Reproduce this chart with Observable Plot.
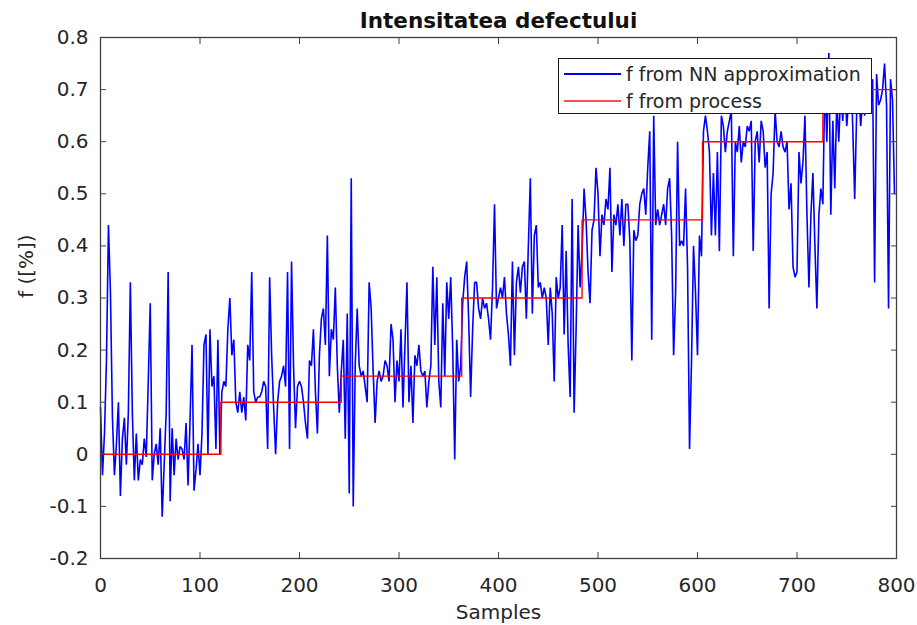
<!DOCTYPE html>
<html>
<head>
<meta charset="utf-8">
<script src="https://cdn.jsdelivr.net/npm/d3@7"></script>
<script src="https://cdn.jsdelivr.net/npm/@observablehq/plot@0.6"></script>
<style>
  html, body { margin: 0; padding: 0; background: #fff; }
  #wrap { position: relative; width: 917px; height: 625px; overflow: hidden; }
  #legend { position: absolute; left: 558px; top: 58px; width: 314px; height: 56px; box-sizing: border-box;
            border: 1px solid #1a1a1a; background: #fff; font-family: "DejaVu Sans", sans-serif; font-size: 19px; color: #262626; }
  .lg-row { position: absolute; left: 0; height: 20px; display: flex; align-items: center; }
  .lg-line { width: 57px; margin-left: 5px; margin-right: 5px; }
</style>
</head>
<body>
<div id="wrap"></div>
<script>
// ---- Data ----
const chartTitle = "Intensitatea defectului";
const xLabel = "Samples";
const yLabel = "f ([%])";
const seriesNames = ["f from NN approximation", "f from process"];
const seriesColors = ["#0000ff", "#ff0000"];

const xTicks = [0, 100, 200, 300, 400, 500, 600, 700, 800];
const yTicks = [-0.2, -0.1, 0, 0.1, 0.2, 0.3, 0.4, 0.5, 0.6, 0.7, 0.8];
const yTickLabels = ["-0.2", "-0.1", "0", "0.1", "0.2", "0.3", "0.4", "0.5", "0.6", "0.7", "0.8"];

// NN approximation, one value every 2 samples
const sampleStep = 2;
const nnValues = [
  0.09, -0.04, 0.04, 0.18, 0.44, 0.31, 0.07, -0.04, 0.02, 0.1,
  -0.08, 0.03, 0.07, -0.02, 0.08, 0.33, 0.08, -0.05, 0.04, -0.05,
  -0.01, -0.02, 0.03, -0.005, 0.14, 0.29, -0.05, 0.0, 0.02, -0.02,
  0.05, -0.12, -0.02, 0.08, 0.35, -0.09, 0.05, -0.04, 0.03, -0.01,
  0.015, 0.01, -0.01, 0.06, -0.06, 0.065, 0.21, -0.07, -0.03, 0.02,
  -0.04, 0.04, 0.21, 0.23, 0.0, 0.24, 0.13, 0.15, 0.01, 0.22,
  0.0, 0.12, 0.14, 0.13, 0.24, 0.3, 0.19, 0.22, 0.1, 0.08,
  0.12, 0.08, 0.11, 0.065, 0.21, 0.18, 0.35, 0.12, 0.1, 0.11,
  0.11, 0.12, 0.14, 0.13, 0.01, 0.34, 0.19, 0.09, 0.0, 0.1,
  0.14, 0.15, 0.17, 0.13, 0.35, 0.01, 0.37, 0.17, 0.05, 0.13,
  0.14, 0.13, 0.1, 0.06, 0.03, 0.18, 0.17, 0.24, 0.12, 0.04,
  0.19, 0.26, 0.28, 0.21, 0.42, 0.15, 0.24, 0.22, 0.32, 0.17,
  0.08, 0.16, 0.22, 0.03, 0.27, -0.075, 0.53, -0.1, 0.17, 0.28,
  0.17, 0.15, 0.16, 0.13, 0.1, 0.33, 0.28, 0.16, 0.06, 0.14,
  0.16, 0.14, 0.15, 0.18, 0.17, 0.14, 0.25, 0.22, 0.1, 0.18,
  0.14, 0.24, 0.09, 0.21, 0.33, 0.1, 0.17, 0.06, 0.19, 0.17,
  0.21, 0.16, 0.15, 0.16, 0.09, 0.14, 0.17, 0.36, 0.21, 0.34,
  0.14, 0.09, 0.29, 0.15, 0.33, 0.26, 0.34, 0.2, -0.01, 0.22,
  0.14, 0.17, 0.29, 0.34, 0.37, 0.26, 0.11, 0.24, 0.33, 0.33,
  0.28, 0.26, 0.3, 0.28, 0.29, 0.26, 0.22, 0.32, 0.48, 0.28,
  0.3, 0.32, 0.3, 0.34, 0.27, 0.23, 0.17, 0.37, 0.19, 0.33,
  0.36, 0.31, 0.36, 0.37, 0.26, 0.4, 0.53, 0.27, 0.42, 0.44,
  0.32, 0.33, 0.3, 0.32, 0.3, 0.21, 0.32, 0.27, 0.14, 0.34,
  0.3, 0.32, 0.44, 0.23, 0.39, 0.21, 0.11, 0.49, 0.08, 0.24,
  0.44, 0.32, 0.39, 0.51, 0.45, 0.35, 0.29, 0.43, 0.45, 0.55,
  0.5, 0.38, 0.46, 0.44, 0.49, 0.47, 0.55, 0.35, 0.46, 0.44,
  0.48, 0.42, 0.49, 0.4, 0.48, 0.48, 0.41, 0.18, 0.43, 0.41,
  0.42, 0.48, 0.5, 0.51, 0.46, 0.55, 0.62, 0.22, 0.65, 0.44,
  0.47, 0.44, 0.46, 0.48, 0.44, 0.51, 0.53, 0.42, 0.19, 0.31,
  0.6, 0.4, 0.41, 0.4, 0.51, 0.36, 0.01, 0.18, 0.4, 0.31,
  0.19, 0.42, 0.38, 0.62, 0.65, 0.62, 0.58, 0.42, 0.54, 0.42,
  0.58, 0.39, 0.65, 0.63, 0.58, 0.62, 0.64, 0.66, 0.38, 0.6,
  0.58, 0.63, 0.56, 0.6, 0.59, 0.63, 0.62, 0.64, 0.39, 0.6,
  0.62, 0.56, 0.64, 0.62, 0.55, 0.58, 0.28, 0.5, 0.54, 0.66,
  0.6, 0.59, 0.62, 0.59, 0.58, 0.6, 0.47, 0.52, 0.36, 0.34,
  0.35, 0.58, 0.52, 0.56, 0.65, 0.46, 0.32, 0.46, 0.54, 0.4,
  0.28, 0.46, 0.51, 0.48, 0.72, 0.6, 0.77, 0.46, 0.64, 0.51,
  0.68, 0.6, 0.7, 0.64, 0.72, 0.63, 0.68, 0.76, 0.63, 0.49,
  0.66, 0.7, 0.63, 0.68, 0.65, 0.7, 0.66, 0.67, 0.72, 0.33,
  0.73, 0.67, 0.68, 0.7, 0.75, 0.67, 0.28, 0.72, 0.68, 0.5
];

// Process fault intensity (step function)
const processSamples = [0, 121, 242, 363, 484, 605, 726, 800];
const processValues  = [0, 0.1, 0.15, 0.3, 0.45, 0.6, 0.7, 0.7];

// ---- Build tables ----
const nnData = nnValues.map((v, i) => ({sample: i * sampleStep, value: v}));
const processData = processSamples.map((s, i) => ({sample: s, value: processValues[i]}));

const axisColor = "#404040";
const textColor = "#262626";

const chart = Plot.plot({
  width: 917,
  height: 625,
  marginLeft: 100,
  marginRight: 21,
  marginTop: 37,
  marginBottom: 67,
  style: {fontFamily: "DejaVu Sans, sans-serif", fontSize: "20px", color: textColor, background: "#fff"},
  x: {domain: [0, 800]},
  y: {domain: [-0.2, 0.8]},
  marks: [
    Plot.line(nnData, {x: "sample", y: "value", stroke: seriesColors[0], strokeWidth: 1.6, strokeLinejoin: "miter"}),
    Plot.line(processData, {x: "sample", y: "value", stroke: seriesColors[1], strokeWidth: 1.4, curve: "step-after"}),
    Plot.frame({stroke: axisColor, strokeWidth: 1.3}),
    Plot.axisY({anchor: "left", ticks: yTicks, tickSize: -6, tickPadding: 18, tickFormat: (d, i) => yTickLabels[i], label: null, stroke: axisColor, fill: textColor}),
    Plot.axisY({anchor: "right", ticks: yTicks, tickSize: -6, tickFormat: () => "", label: null, stroke: axisColor}),
    Plot.axisX({anchor: "bottom", ticks: xTicks, tickSize: -6, tickPadding: 25, tickFormat: d => String(d), label: null, stroke: axisColor, fill: textColor}),
    Plot.axisX({anchor: "top", ticks: xTicks, tickSize: -6, tickFormat: () => "", label: null, stroke: axisColor}),
    Plot.text([chartTitle], {text: d => d, frameAnchor: "top", lineAnchor: "middle", dy: -16, fontWeight: "bold", fontSize: 21.5, fill: "#111"}),
    Plot.text([xLabel], {text: d => d, frameAnchor: "bottom", lineAnchor: "middle", dy: 54, fontSize: 20, fill: textColor}),
    Plot.text([yLabel], {text: d => d, frameAnchor: "left", lineAnchor: "middle", dx: -74, rotate: -90, fontSize: 20, fill: textColor})
  ]
});

const wrap = document.getElementById("wrap");
wrap.appendChild(chart);

// Legend (drawn on top of the data, like the original)
const legend = document.createElement("div");
legend.id = "legend";
seriesNames.forEach((name, i) => {
  const row = document.createElement("div");
  row.className = "lg-row";
  row.style.top = (i === 0 ? 5 : 32) + "px";
  const line = document.createElement("div");
  line.className = "lg-line";
  line.style.height = (i === 0 ? 2 : 1.5) + "px";
  line.style.background = i === 0 ? seriesColors[0] : "#ff5050";
  const label = document.createElement("span");
  label.textContent = name;
  row.appendChild(line);
  row.appendChild(label);
  legend.appendChild(row);
});
wrap.appendChild(legend);
</script>
</body>
</html>
